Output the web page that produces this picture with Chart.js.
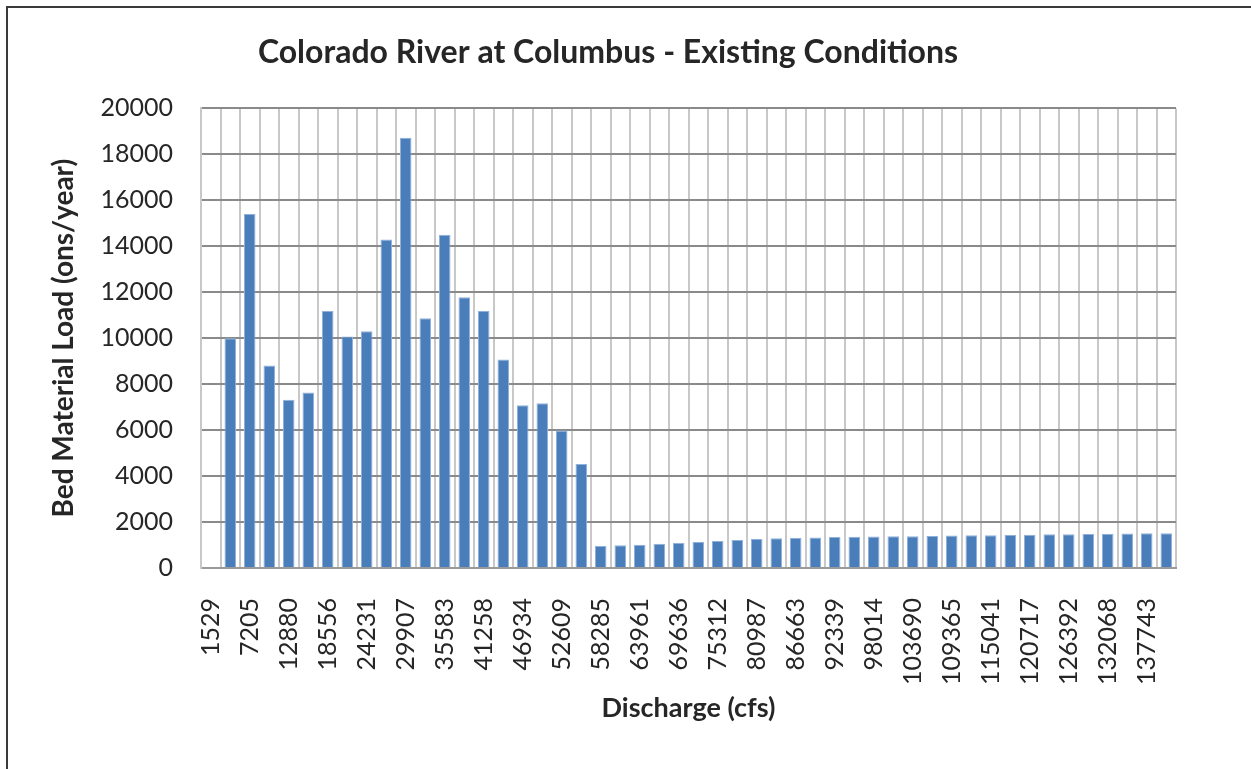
<!DOCTYPE html>
<html>
<head>
<meta charset="utf-8">
<script src="https://cdn.jsdelivr.net/npm/chart.js@4/dist/chart.umd.min.js"></script>
<style>
  html, body { margin: 0; padding: 0; background: #fff; }
  #wrap { position: relative; width: 1251px; height: 769px; }
  #frame { position: absolute; left: 6px; top: 6px; right: -10px; bottom: -10px;
           border-left: 2px solid #3a3a3a; border-top: 2px solid #3a3a3a; pointer-events: none; }
  canvas { position: absolute; left: 0; top: 0; }
</style>
</head>
<body>
<div id="wrap">
  <canvas id="c" width="1251" height="769"></canvas>
  <div id="frame"></div>
</div>
<script>
const chartTitle = "Colorado River at Columbus - Existing Conditions";
const xTitle = "Discharge (cfs)";
const yTitle = "Bed Material Load (ons/year)";

const discharge = [1529, 4367, 7205, 10042, 12880, 15718, 18556, 21394, 24231, 27069,
  29907, 32745, 35583, 38420, 41258, 44096, 46934, 49771, 52609, 55447,
  58285, 61123, 63961, 66798, 69636, 72474, 75312, 78149, 80987, 83825,
  86663, 89501, 92339, 95176, 98014, 100852, 103690, 106527, 109365, 112203,
  115041, 117878, 120717, 123554, 126392, 129230, 132068, 134905, 137743, 140581];

const bedLoad = [null, 10000, 15400, 8810, 7320, 7640, 11180, 10070, 10300, 14290,
  18720, 10870, 14500, 11780, 11180, 9070, 7080, 7170, 5980, 4530,
  960, 985, 1015, 1055, 1090, 1130, 1175, 1215, 1260, 1295,
  1320, 1330, 1345, 1365, 1370, 1380, 1385, 1395, 1410, 1425,
  1430, 1440, 1445, 1465, 1470, 1475, 1495, 1500, 1510, 1515];

const yMin = 0, yMax = 20000, yStep = 2000;

const FONT = "Lato, 'Open Sans', sans-serif";
const TEXT = "#262626";

new Chart(document.getElementById('c'), {
  type: 'bar',
  data: {
    labels: discharge.map(String),
    datasets: [{
      data: bedLoad,
      backgroundColor: '#4a7ebb',
      borderColor: '#8fb1dc',
      borderWidth: 1,
      categoryPercentage: 1.0,
      barPercentage: 0.59
    }]
  },
  options: {
    responsive: false,
    animation: false,
    devicePixelRatio: 1,
    layout: { padding: { left: 40, right: 75, top: 0, bottom: 0 } },
    plugins: {
      legend: { display: false },
      tooltip: { enabled: false },
      title: {
        display: true,
        text: chartTitle,
        color: TEXT,
        font: { family: FONT, size: 32, weight: 'bold' },
        padding: { top: 33, bottom: 37 }
      }
    },
    scales: {
      x: {
        grid: { color: '#c8c8c8', lineWidth: 2, drawTicks: false, offset: true },
        border: { color: '#9a9a9a', width: 2 },
        ticks: {
          autoSkip: false,
          minRotation: 90,
          maxRotation: 90,
          padding: 30,
          color: TEXT,
          font: { family: FONT, size: 25 },
          callback: function(v, i) { return i % 2 === 0 ? this.getLabelForValue(v) : ''; }
        },
        title: {
          display: true,
          text: xTitle,
          color: TEXT,
          font: { family: FONT, size: 27, weight: 'bold' },
          padding: { top: 0, bottom: 45 }
        },
        afterFit: s => { s.height = 201; }
      },
      y: {
        min: yMin, max: yMax,
        grid: { color: '#8a8a8a', lineWidth: 2, drawTicks: false },
        border: { color: '#c8c8c8', width: 2 },
        ticks: {
          stepSize: yStep,
          padding: 28,
          color: TEXT,
          font: { family: FONT, size: 25 },
          callback: v => String(v)
        },
        title: {
          display: true,
          text: yTitle,
          color: TEXT,
          font: { family: FONT, size: 28, weight: 'bold' },
          padding: { top: 7, bottom: 0 }
        },
        afterFit: s => { s.width = 161; }
      }
    }
  }
});
</script>
</body>
</html>
